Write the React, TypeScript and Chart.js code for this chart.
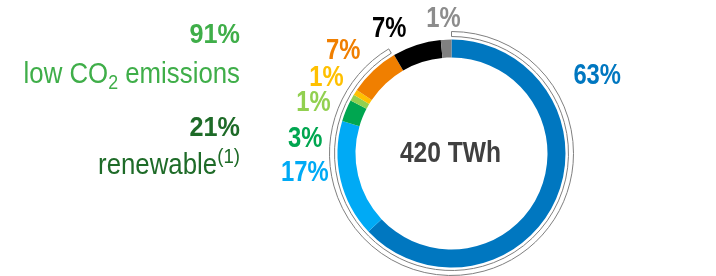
import { useEffect, useRef } from "react";
import { Chart, registerables } from "chart.js";

Chart.register(...registerables);

// ---- data ----
const categories = ["Nuclear", "Hydro", "Wind", "Solar", "Other renewables", "Gas", "Coal", "Other"];
const shares = [63, 16.6, 3.1, 0.9, 0.8, 7.2, 6.9, 1.5];
const shareLabels = ["63%", "17%", "3%", "1%", "1%", "7%", "7%", "1%"];
const segmentColors = ["#0077C0", "#00AAF5", "#00A650", "#92D050", "#FFC000", "#F07F00", "#000000", "#808080"];
const labelColors = ["#0077C0", "#00AAF5", "#00A650", "#92D050", "#FFC000", "#F07F00", "#000000", "#8C8C8C"];
const lowCo2Bracket = [91.4, 8.6];
const totalLabel = "420 TWh";
const lowCo2Value = "91%";
const renewableValue = "21%";

// ---- label placement (degrees clockwise from top, distance from centre) ----
const labelAngles = [62, -97.7, -84.5, -70, -59, -46.6, -26.6, -3.4];
const labelRadii = [165, 148, 147, 147, 146, 149, 139, 135];

let narrowCache: boolean | null = null;
function hasNarrow(ctx: CanvasRenderingContext2D) {
  if (narrowCache !== null) return narrowCache;
  ctx.save();
  ctx.font = '40px "Liberation Sans Narrow", monospace';
  const a = ctx.measureText("abcdefghij").width;
  ctx.font = "40px monospace";
  const b = ctx.measureText("abcdefghij").width;
  ctx.restore();
  narrowCache = Math.abs(a - b) > 0.5;
  return narrowCache;
}

// sx: horizontal scale applied to regular Liberation Sans; null => narrow face
function setFont(ctx: CanvasRenderingContext2D, size: number, bold: boolean, sx: number | null) {
  let scale = 1;
  if (sx === null) {
    if (hasNarrow(ctx)) {
      ctx.font = `${bold ? "bold " : ""}${size}px "Liberation Sans Narrow"`;
    } else {
      ctx.font = `${bold ? "bold " : ""}${size}px "Liberation Sans"`;
      scale = 0.82;
    }
  } else {
    ctx.font = `${bold ? "bold " : ""}${size}px "Liberation Sans"`;
    scale = sx;
  }
  return scale;
}

function drawText(
  ctx: CanvasRenderingContext2D,
  text: string,
  x: number,
  y: number,
  size: number,
  bold: boolean,
  color: string,
  align: CanvasTextAlign,
  baseline: CanvasTextBaseline = "alphabetic",
  sx: number | null = null
) {
  ctx.save();
  const scale = setFont(ctx, size, bold, sx);
  ctx.fillStyle = color;
  ctx.textAlign = align;
  ctx.textBaseline = baseline;
  ctx.translate(x, y);
  ctx.scale(scale, 1);
  ctx.fillText(text, 0, 0);
  ctx.restore();
}

function textWidth(ctx: CanvasRenderingContext2D, text: string, size: number, bold: boolean, sx: number | null = null) {
  ctx.save();
  const scale = setFont(ctx, size, bold, sx);
  const w = ctx.measureText(text).width * scale;
  ctx.restore();
  return w;
}

const labelPlugin = {
  id: "labelPlugin",
  afterDatasetsDraw(chart: any) {
    const ctx: CanvasRenderingContext2D = chart.ctx;
    const meta = chart.getDatasetMeta(2);
    const arc = meta.data[0];
    if (!arc) return;
    const cx = arc.x;
    const cy = arc.y;
    shareLabels.forEach((t, i) => {
      const th = (labelAngles[i] * Math.PI) / 180;
      const x = cx + labelRadii[i] * Math.sin(th);
      const y = cy - labelRadii[i] * Math.cos(th);
      drawText(ctx, t, x, y, 29, true, labelColors[i], "center", "middle");
    });
    drawText(ctx, totalLabel, cx - 1, cy, 30, true, "#404040", "center", "middle");

    // left annotations
    const right = 240;
    const light = "#3FAE49";
    const dark = "#1E6B28";
    const boldSx = 0.9;
    const regSx = 0.89;
    drawText(ctx, lowCo2Value, right, 43, 28, true, light, "right", "alphabetic", boldSx);
    // "low CO₂ emissions"
    const partA = "low CO";
    const sub = "2";
    const partB = " emissions";
    const wB = textWidth(ctx, partB, 29, false, regSx);
    const wSub = textWidth(ctx, sub, 20, false, regSx);
    const wA = textWidth(ctx, partA, 29, false, regSx);
    const startX = right - wB - wSub - wA;
    drawText(ctx, partA, startX, 83, 29, false, light, "left", "alphabetic", regSx);
    drawText(ctx, sub, startX + wA, 89, 20, false, light, "left", "alphabetic", regSx);
    drawText(ctx, partB, startX + wA + wSub, 83, 29, false, light, "left", "alphabetic", regSx);

    drawText(ctx, renewableValue, right, 136, 28, true, dark, "right", "alphabetic", boldSx);
    const sup = "(1)";
    const supSx = 0.89;
    const wSup = textWidth(ctx, sup, 21, false, supSx);
    drawText(ctx, sup, right, 163, 21, false, dark, "right", "alphabetic", supSx);
    drawText(ctx, "renewable", right - wSup, 174, 29, false, dark, "right", "alphabetic", 0.89);
  },
};

export default function App() {
  const ref = useRef<HTMLCanvasElement | null>(null);
  useEffect(() => {
    if (!ref.current) return;
    const chart = new Chart(ref.current, {
      type: "doughnut",
      data: {
        labels: categories,
        datasets: [
          {
            label: "Low CO2",
            data: lowCo2Bracket,
            backgroundColor: ["#FFFFFF", "rgba(0,0,0,0)"],
            borderColor: ["#7F7F7F", "rgba(0,0,0,0)"],
            borderWidth: [1, 0],
            hoverBorderWidth: [1, 0],
            weight: 5,
          },
          {
            label: "gap",
            data: [1],
            backgroundColor: ["rgba(0,0,0,0)"],
            borderWidth: 0,
            weight: 3,
          },
          {
            label: "Generation",
            data: shares,
            backgroundColor: segmentColors,
            borderWidth: 0,
            weight: 18,
          },
        ],
      } as any,
      options: {
        responsive: false,
        animation: false,
        events: [],
        cutout: 96,
        layout: { padding: { left: 329, right: 142, top: 31, bottom: 0 } },
        plugins: { legend: { display: false }, tooltip: { enabled: false } },
      } as any,
      plugins: [labelPlugin],
    });
    return () => chart.destroy();
  }, []);
  return (
    <div style={{ position: "absolute", left: 0, top: 0, width: 716, height: 276, background: "#fff" }}>
      <canvas ref={ref} width={716} height={276} style={{ width: 716, height: 276, display: "block" }} />
    </div>
  );
}
